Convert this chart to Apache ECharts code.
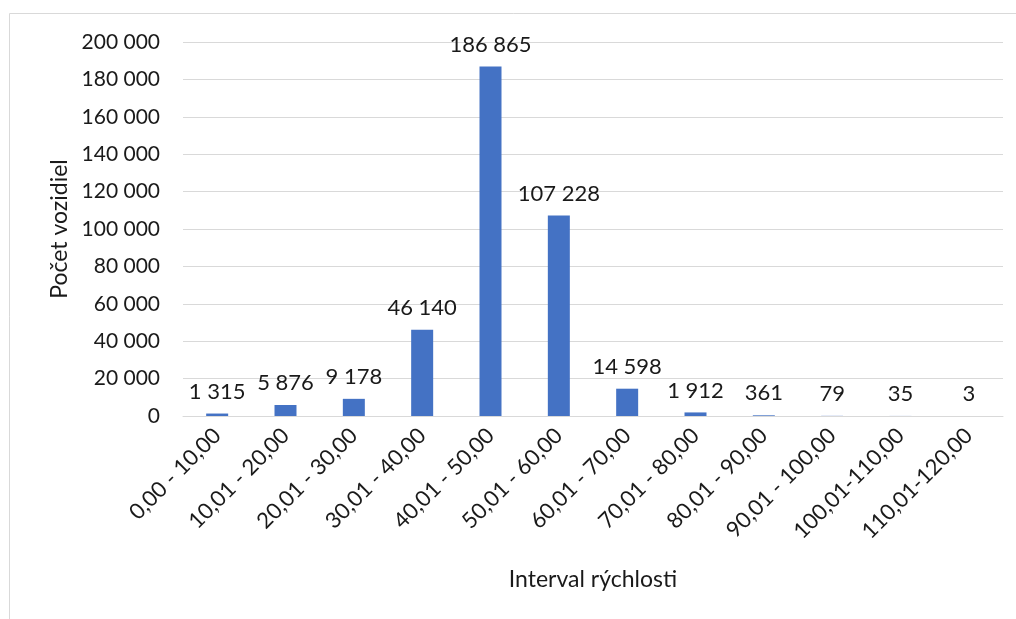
<!DOCTYPE html>
<html>
<head>
<meta charset="utf-8">
<script src="https://cdn.jsdelivr.net/npm/echarts@6/dist/echarts.min.js"></script>
<style>
  html, body { margin: 0; padding: 0; background: #fff; }
  #chart { width: 1016px; height: 619px; }
</style>
</head>
<body>
<div id="chart"></div>
<script>
// speed intervals (km/h) and vehicle counts
const intervals = [
    '0,00 - 10,00', '10,01 - 20,00', '20,01 - 30,00', '30,01 - 40,00',
    '40,01 - 50,00', '50,01 - 60,00', '60,01 - 70,00', '70,01 - 80,00',
    '80,01 - 90,00', '90,01 - 100,00', '100,01-110,00', '110,01-120,00'
];
const vehicleCounts = [1315, 5876, 9178, 46140, 186865, 107228, 14598, 1912, 361, 79, 35, 3];

const yMin = 0;
const yMax = 200000;
const yStep = 20000;

// thousands with a space, like the Slovak source
function fmtNum(v) {
    return String(v).replace(/\B(?=(\d{3})+(?!\d))/g, ' ');
}

const chart = echarts.init(document.getElementById('chart'));
const font = 'Lato, "Open Sans", sans-serif';

chart.setOption({
    animation: false,
    textStyle: { fontFamily: font },
    graphic: [{
        type: 'rect',
        shape: { x: 9.5, y: 13.5, width: 1100, height: 700 },
        style: { fill: 'none', stroke: '#d9d9d9', lineWidth: 1 },
        silent: true
    }],
    grid: { left: 183, right: 13, top: 42, bottom: 203 },
    xAxis: {
        type: 'category',
        data: intervals,
        name: 'Interval rýchlosti',
        nameLocation: 'middle',
        nameGap: 152,
        nameTextStyle: { fontSize: 23, color: '#1a1a1a', fontFamily: font },
        axisLine: { lineStyle: { color: '#d9d9d9', width: 1 } },
        axisTick: { show: false },
        axisLabel: {
            interval: 0,
            rotate: 45,
            margin: 16,
            fontSize: 22,
            color: '#1a1a1a',
            fontFamily: font
        }
    },
    yAxis: {
        type: 'value',
        min: yMin,
        max: yMax,
        interval: yStep,
        name: 'Počet vozidiel',
        nameLocation: 'middle',
        nameGap: 112,
        nameTextStyle: { fontSize: 23, color: '#1a1a1a', fontFamily: font },
        axisLine: { show: false },
        axisTick: { show: false },
        axisLabel: {
            margin: 23,
            fontSize: 21,
            color: '#1a1a1a',
            fontFamily: font,
            formatter: v => fmtNum(v)
        },
        splitLine: { lineStyle: { color: '#d9d9d9', width: 1 } }
    },
    series: [{
        type: 'bar',
        data: vehicleCounts,
        barWidth: 22,
        itemStyle: { color: '#4472C4' },
        label: {
            show: true,
            position: 'top',
            distance: 11,
            fontSize: 22,
            color: '#1a1a1a',
            fontFamily: font,
            formatter: p => fmtNum(p.value)
        }
    }]
});
</script>
</body>
</html>
